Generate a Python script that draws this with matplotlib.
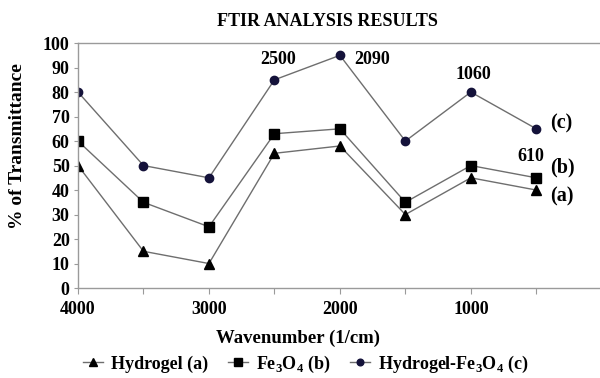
import matplotlib
matplotlib.use("Agg")
import matplotlib.pyplot as plt
from matplotlib.ticker import MultipleLocator

plt.rcParams['font.family'] = ['Liberation Serif', 'DejaVu Serif']
plt.rcParams['font.weight'] = 'bold'
plt.rcParams['mathtext.fontset'] = 'custom'
plt.rcParams['mathtext.rm'] = 'Liberation Serif:bold'
plt.rcParams['mathtext.bf'] = 'Liberation Serif:bold'

wavenumber = [4000, 3500, 3000, 2500, 2000, 1500, 1000, 500]
hydrogel = [50, 15, 10, 55, 58, 30, 45, 40]
fe3o4 = [60, 35, 25, 63, 65, 35, 50, 45]
hydrogel_fe3o4 = [80, 50, 45, 85, 95, 60, 80, 65]
labels = ['Hydrogel (a)', r'Fe$_3$O$_4$ (b)', r'Hydrogel-Fe$_3$O$_4$ (c)']

fig = plt.figure(figsize=(6, 3.78), dpi=100)
ax = fig.add_axes([0.13, 0.238, 0.873, 0.648])

line_col = '#6e6e6e'
ax.plot(wavenumber, hydrogel, color=line_col, lw=1, marker='^', ms=7,
        mfc='black', mec='black', label=labels[0])
ax.plot(wavenumber, fe3o4, color=line_col, lw=1, marker='s', ms=6.5,
        mfc='black', mec='black', label=labels[1])
ax.plot(wavenumber, hydrogel_fe3o4, color=line_col, lw=1, marker='o', ms=6,
        mfc='#14123a', mec='#14123a', label=labels[2])

ax.set_xlim(4000, 0)
ax.set_ylim(0, 100)
ax.xaxis.set_minor_locator(MultipleLocator(500))
ax.yaxis.set_major_locator(MultipleLocator(10))
ax.set_xticks([4000, 3000, 2000, 1000])
ax.tick_params(axis='both', which='both', direction='out', color='#9a9a9a',
               width=0.8, labelsize=13)
ax.tick_params(axis='x', which='both', length=4, pad=5)
ax.tick_params(axis='y', length=3, pad=3)
for s in ['left', 'bottom', 'top', 'right']:
    ax.spines[s].set_color('#9a9a9a')
    ax.spines[s].set_linewidth(1)

fs = 13
ax.text(2473, 93.5, '2500', ha='center', va='center', fontsize=fs, fontweight='bold')
ax.text(1893, 93.5, '2090', ha='left', va='center', fontsize=fs, fontweight='bold')
ax.text(977, 87, '1060', ha='center', va='center', fontsize=fs, fontweight='bold')
ax.text(542, 53.5, '610', ha='center', va='center', fontsize=fs, fontweight='bold')
ax.text(397, 67, '(c)', ha='left', va='center', fontsize=14.5, fontweight='bold')
ax.text(397, 49.4, '(b)', ha='left', va='center', fontsize=14.5, fontweight='bold')
ax.text(397, 37.5, '(a)', ha='left', va='center', fontsize=14.5, fontweight='bold')

fig.text(327 / 600, 1 - 22 / 378, 'FTIR ANALYSIS RESULTS', ha='center', va='center',
         fontsize=13, fontweight='bold')
fig.text(18 / 600, 1 - 146 / 378, '% of Transmittance', rotation=90, ha='center',
         va='center', fontsize=14, fontweight='bold')
fig.text(298 / 600, 1 - 338 / 378, 'Wavenumber (1/cm)', ha='center', va='center',
         fontsize=13.5, fontweight='bold')

fig.legend(loc='center', bbox_to_anchor=(306 / 600, 1 - 364 / 378), ncol=3,
           frameon=False, fontsize=13, handlelength=1.1, handletextpad=0.45,
           columnspacing=1.1, markerscale=0.8, borderpad=0)

fig.savefig('out.png', dpi=100)
